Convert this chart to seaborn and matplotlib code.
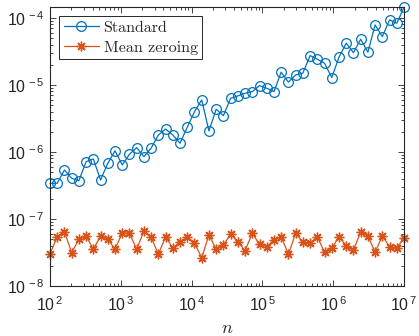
import numpy as np
import pandas as pd
import matplotlib
matplotlib.use("Agg")
import matplotlib.pyplot as plt
import seaborn as sns

# Problem sizes: 50 log-spaced values from 1e2 to 1e7
n_values = np.logspace(2, 7, 50)

# Error of the standard summation
standard = [
    3.41e-7, 3.41e-7, 5.38e-7, 4.05e-7, 3.73e-7, 7.16e-7, 7.86e-7, 3.82e-7, 6.78e-7, 1.04e-6,
    6.40e-7, 9.24e-7, 1.16e-6, 8.51e-7, 1.14e-6, 1.79e-6, 2.20e-6, 1.79e-6, 1.35e-6, 2.34e-6,
    3.99e-6, 5.97e-6, 2.06e-6, 4.34e-6, 3.48e-6, 6.33e-6, 6.85e-6, 7.52e-6, 7.94e-6, 9.77e-6,
    8.93e-6, 7.94e-6, 1.55e-5, 1.10e-5, 1.41e-5, 1.50e-5, 2.74e-5, 2.42e-5, 2.11e-5, 1.29e-5,
    2.59e-5, 4.19e-5, 3.03e-5, 4.81e-5, 3.08e-5, 7.86e-5, 5.26e-5, 9.33e-5, 8.34e-5, 1.44e-4,
]

# Error after mean zeroing
mean_zeroing = [
    3.01e-8, 5.44e-8, 6.46e-8, 3.14e-8, 4.98e-8, 5.57e-8, 3.53e-8, 5.57e-8, 4.98e-8, 3.57e-8,
    6.12e-8, 6.12e-8, 3.53e-8, 6.62e-8, 5.33e-8, 2.97e-8, 5.44e-8, 3.66e-8, 4.58e-8, 5.33e-8,
    4.34e-8, 2.64e-8, 5.77e-8, 3.53e-8, 4.09e-8, 5.91e-8, 4.58e-8, 3.37e-8, 6.12e-8, 4.19e-8,
    3.86e-8, 4.86e-8, 5.44e-8, 2.97e-8, 6.12e-8, 4.49e-8, 4.34e-8, 5.44e-8, 3.18e-8, 3.66e-8,
    5.44e-8, 3.99e-8, 3.45e-8, 6.33e-8, 5.64e-8, 3.18e-8, 5.57e-8, 3.86e-8, 3.73e-8, 5.15e-8,
]

series_names = ["Standard", "Mean zeroing"]

df_std = pd.DataFrame({"n": n_values, "err": standard})
df_mz = pd.DataFrame({"n": n_values, "err": mean_zeroing})

sns.set_style("ticks")
plt.rcParams["font.family"] = ["Liberation Sans", "DejaVu Sans"]
plt.rcParams["mathtext.fontset"] = "custom"
plt.rcParams["mathtext.rm"] = "Liberation Sans"
plt.rcParams["mathtext.it"] = "Liberation Sans:italic"
plt.rcParams["mathtext.bf"] = "Liberation Sans:bold"

axis_color = "#262626"
blue = "#0072BD"
orange = "#D95319"

fig = plt.figure(figsize=(4.19, 3.36), dpi=100)
ax = fig.add_axes([50 / 419, 1 - 286 / 336, 354 / 419, (286 - 7.3) / 336])

sns.lineplot(data=df_std, x="n", y="err", ax=ax, color=blue, lw=0.9,
             marker="o", markersize=7, markerfacecolor="none",
             markeredgecolor=blue, markeredgewidth=0.9,
             label=series_names[0], clip_on=False)
sns.lineplot(data=df_mz, x="n", y="err", ax=ax, color=orange, lw=0.9,
             marker=(8, 2, 0), markersize=7, markeredgecolor=orange,
             markeredgewidth=1.0, label=series_names[1], clip_on=False)

ax.set_xscale("log")
ax.set_yscale("log")
ax.set_xlim(1e2, 1e7)
ax.set_ylim(1e-8, max(standard))


def power_label(value, pos):
    exponent = int(round(np.log10(value)))
    return r"$\mathdefault{10^{\,%d}}$" % exponent


ax.xaxis.set_major_formatter(matplotlib.ticker.FuncFormatter(power_label))
ax.yaxis.set_major_formatter(matplotlib.ticker.FuncFormatter(power_label))

for side in ["top", "right", "bottom", "left"]:
    ax.spines[side].set_visible(True)
    ax.spines[side].set_color(axis_color)
    ax.spines[side].set_linewidth(0.8)

ax.tick_params(which="both", direction="in", top=True, right=True,
               color=axis_color, labelcolor=axis_color, labelsize=11.5, width=0.6)
ax.tick_params(which="major", length=4.5)
ax.tick_params(which="minor", length=2.5)
ax.xaxis.set_minor_locator(matplotlib.ticker.LogLocator(base=10, subs=np.arange(2, 10), numticks=20))
ax.yaxis.set_minor_locator(matplotlib.ticker.LogLocator(base=10, subs=np.arange(2, 10), numticks=20))
ax.tick_params(axis="x", pad=7)
ax.tick_params(axis="y", pad=4)

ax.set_xlabel("n", fontsize=13, color=axis_color, labelpad=4, fontfamily="cmmi10")
ax.set_ylabel("")

leg = ax.legend(loc="upper left", bbox_to_anchor=(0.025, 0.969), borderaxespad=0,
                frameon=True, fancybox=False, framealpha=1, edgecolor=axis_color,
                prop={"family": "cmr10", "size": 11.5}, handlelength=2.2,
                handletextpad=0.3, borderpad=0.3, labelspacing=0.35)
leg.get_frame().set_linewidth(0.7)

fig.savefig("out.png", dpi=100)
